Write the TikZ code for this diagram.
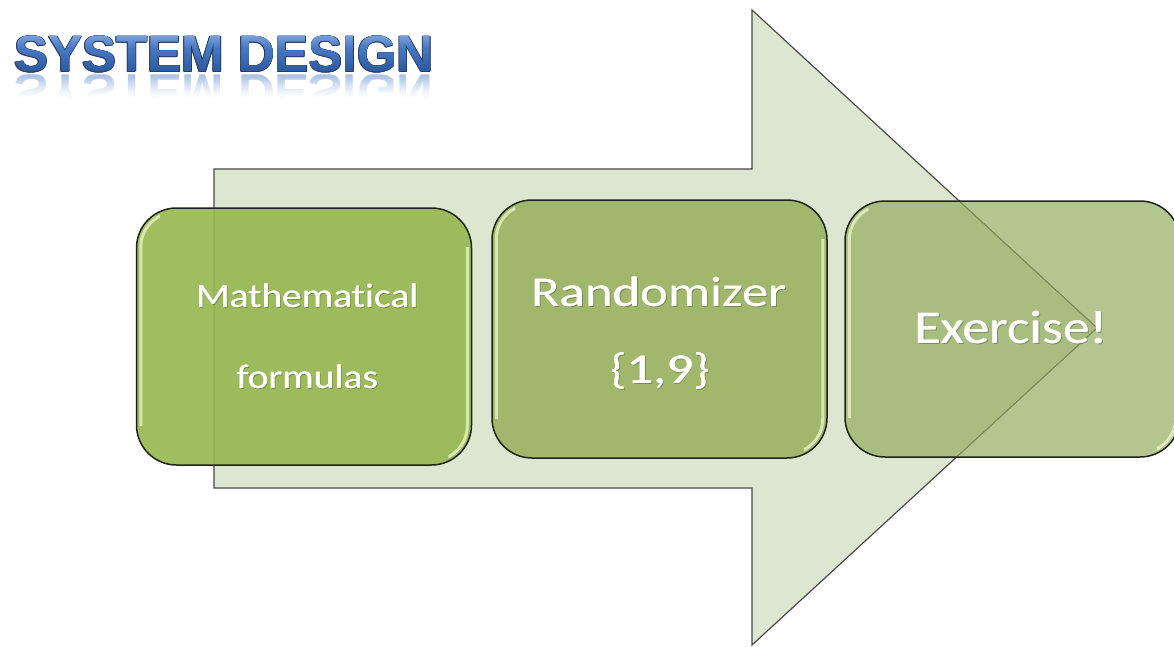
\documentclass[tikz,border=0pt]{standalone}
\usepackage{fontspec}
\usepackage{graphicx}
\setmainfont{Carlito}[Ligatures=NoCommon]
\newfontfamily\titlefont{Liberation Sans}
\usetikzlibrary{calc}

\definecolor{arrowfill}{HTML}{DDE6D0}
\definecolor{arrowline}{HTML}{4A4A4A}
\definecolor{gelone}{HTML}{98B853}
\definecolor{geltwo}{HTML}{8FAB50}
\definecolor{gelthree}{HTML}{91AB5C}
\definecolor{gelrim}{HTML}{1E2418}
\definecolor{gelshine}{HTML}{F2FAD0}
\definecolor{titletop}{HTML}{86AAE0}
\definecolor{titlemid}{HTML}{4676C0}
\definecolor{titlebot}{HTML}{2C5A9E}
\definecolor{titlerim}{HTML}{2A3D62}
\definecolor{titleglass}{HTML}{7EA2D8}

\tikzset{
  flowarrow/.style={fill=arrowfill, draw=arrowline, line width=1.2pt, line join=miter},
  gelbox/.style={draw=gelrim, line width=1.5pt, rounded corners=40pt,
    minimum width=335pt, minimum height=257pt, inner sep=0pt},
  shine/.style={draw=gelshine, line width=3pt, opacity=0.7, rounded corners=35pt},
  lbl/.style={text=white, inner sep=0pt, anchor=base},
  lblshadow/.style={text=black, text opacity=0.25, inner sep=0pt, anchor=base},
  titletext/.style={inner sep=0pt, anchor=base west,
    font=\titlefont\bfseries\fontsize{51}{51}\selectfont}
}

% glossy rim light: top-left corner plus left side, right side plus bottom-right corner
\newcommand\shineon[1]{%
  \begin{scope}
    \clip ($(#1.north west)+(0,0)$) rectangle ($(#1.south west)+(24,-40)$);
    \draw[shine] ($(#1.north west)+(5,5)$) rectangle ($(#1.south east)+(-5,-5)$);
  \end{scope}
  \begin{scope}
    \clip ($(#1.north east)+(-24,40)$) rectangle ($(#1.south east)+(0,0)$);
    \draw[shine] ($(#1.north west)+(5,5)$) rectangle ($(#1.south east)+(-5,-5)$);
  \end{scope}
}

% white label with a soft shadow; drawn twice for slightly heavier strokes
\newcommand\steplabel[5]{% name, position, size, horizontal stretch, text
  \node[lblshadow, font=\fontsize{#3}{#3}\selectfont] (#1s) at ($#2+(1.3,1.3)$) {\scalebox{#4}[1]{#5}};
  \node[lbl, font=\fontsize{#3}{#3}\selectfont] (#1b) at ($#2+(0.5,0)$) {\scalebox{#4}[1]{#5}};
  \node[lbl, font=\fontsize{#3}{#3}\selectfont] (#1) at #2 {\scalebox{#4}[1]{#5}};
}

\begin{document}
\begin{tikzpicture}[x=1pt,y=-1pt]
\useasboundingbox (0,0) rectangle (1174,647);
\fill[white] (0,0) rectangle (1174,647);

% heading: thin dark rim, then a vertical colour gradient
\foreach \dx/\dy [count=\k] in {0.8/0,-0.8/0,0/0.8,0/-0.8,0.6/0.6,-0.6/0.6,0.6/-0.6,-0.6/-0.6} {
  \node[titletext, text=titlerim] (rim\k) at ({14+\dx},{72+\dy}) {SYSTEM DESIGN};
}
\node[titletext, text=titlebot] (head) at (14,72) {SYSTEM DESIGN};
\foreach \i in {0,...,18} {
  \begin{scope}
    \clip (0,{33+2*\i}) rectangle (460,{35+2*\i});
    \ifnum\i<9
      \pgfmathtruncatemacro\pcta{100-\i*100/8}
      \node[titletext, text=titletop!\pcta!titlemid] (head\i) at (14,72) {SYSTEM DESIGN};
    \else
      \pgfmathtruncatemacro\pcta{100-(\i-9)*100/10}
      \node[titletext, text=titlemid!\pcta!titlebot] (head\i) at (14,72) {SYSTEM DESIGN};
    \fi
  \end{scope}
}
% faded mirror image under the heading
\foreach \i in {0,...,24} {
  \pgfmathsetmacro\op{0.42*(1-\i/24)^1.6}
  \begin{scope}
    \clip (0,{75+\i}) rectangle (460,{76+\i});
    \node[titletext, text=titleglass, opacity=\op] (mirror\i) at (14,75)
      {\scalebox{1}[-1]{SYSTEM DESIGN}};
  \end{scope}
}

% large block arrow behind the steps
\draw[flowarrow] (214,169) -- (752,169) -- (752,10) -- (1097,328)
  -- (752,645) -- (752,488) -- (214,488) -- cycle;

% the three process steps
\node[gelbox, fill=gelone, fill opacity=0.92, minimum height=257pt] (stepA) at (304,336.5) {};
\node[gelbox, fill=geltwo, fill opacity=0.78, minimum height=258pt] (stepB) at (659.5,329) {};
\node[gelbox, fill=gelthree, fill opacity=0.68, minimum height=256pt] (stepC) at (1012.5,329) {};
\shineon{stepA}
\shineon{stepB}
\shineon{stepC}

\steplabel{mathA}{(307,307)}{34}{1.16}{Mathematical}
\steplabel{mathB}{(307,388)}{34}{1.16}{formulas}
\steplabel{randA}{(659,306)}{42.5}{1.24}{Randomizer}
\steplabel{randB}{(660,383)}{42.5}{1.24}{\{1,9\}}
\steplabel{exer}{(1011,343)}{47}{1.14}{Exercise!}
\end{tikzpicture}
\end{document}
